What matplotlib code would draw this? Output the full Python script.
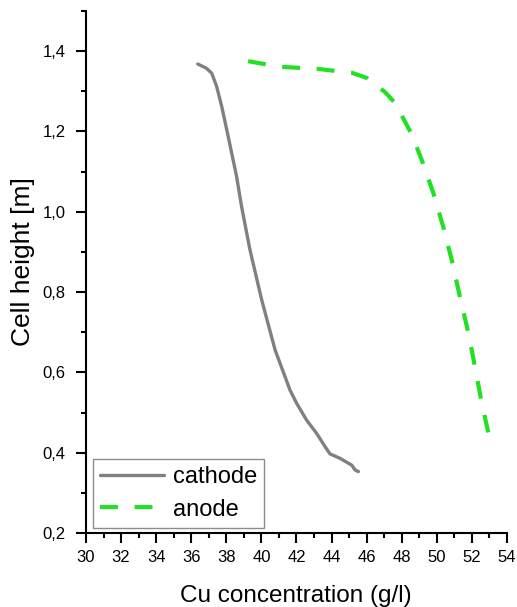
import matplotlib.pyplot as plt
from matplotlib.ticker import MultipleLocator, FuncFormatter

plt.rcParams['font.family'] = ['Liberation Sans', 'DejaVu Sans']

cathode_x = [36.37, 36.88, 37.17, 37.45, 37.74, 38.11, 38.59, 38.87, 39.35, 40.02,
             40.78, 41.63, 42.01, 42.58, 43.15, 43.63, 43.91, 44.48, 45.15, 45.34, 45.53]
cathode_y = [1.368, 1.357, 1.345, 1.312, 1.262, 1.187, 1.087, 1.013, 0.905, 0.780,
             0.656, 0.556, 0.523, 0.481, 0.448, 0.415, 0.397, 0.386, 0.369, 0.357, 0.353]

anode_x = [39.24, 41.06, 43.17, 45.17, 46.02, 47.05, 47.62, 48.07, 48.59, 49.14,
           49.80, 50.37, 50.85, 51.32, 51.80, 52.18, 52.56, 53.03, 53.15]
anode_y = [1.375, 1.361, 1.356, 1.346, 1.333, 1.298, 1.271, 1.234, 1.191, 1.129,
           1.047, 0.962, 0.880, 0.788, 0.698, 0.613, 0.524, 0.432, 0.419]

fig = plt.figure(figsize=(5.17, 6.07), dpi=100)
ax = fig.add_axes([0.1663, 0.1219, 0.8143, 0.86])

ax.plot(cathode_x, cathode_y, color='#808080', lw=2.4, label='cathode',
        solid_joinstyle='round', solid_capstyle='round')
ax.plot(anode_x, anode_y, color='#22e022', lw=3, dashes=(4.3, 4.0), label='anode')

ax.set_xlim(30, 54)
ax.set_ylim(0.2, 1.5)
ax.xaxis.set_major_locator(MultipleLocator(2))
ax.xaxis.set_minor_locator(MultipleLocator(1))
ax.yaxis.set_minor_locator(MultipleLocator(0.1))
ax.set_yticks([0.2, 0.4, 0.6, 0.8, 1.0, 1.2, 1.4])
ax.yaxis.set_major_formatter(FuncFormatter(lambda v, p: f'{v:.1f}'.replace('.', ',')))

for s in ['top', 'right']:
    ax.spines[s].set_visible(False)
for s in ['left', 'bottom']:
    ax.spines[s].set_linewidth(1.5)
ax.tick_params(which='major', direction='out', length=7, width=1.5, labelsize=12)
ax.tick_params(axis='x', which='major', pad=5)
ax.tick_params(axis='y', which='major', pad=7.5)
ax.tick_params(which='minor', direction='out', length=3.5, width=1.5)

# axis titles
fig.text(296 / 517, 0.008, 'Cu concentration (g/l)', fontsize=17.5,
         ha='center', va='baseline')
fig.text(23 / 517, 1 - 262 / 607, 'Cell height [m]', fontsize=19,
         rotation=90, ha='center', va='center')

leg = ax.legend(loc='lower left', bbox_to_anchor=(0.016, 0.01), fontsize=17,
                frameon=True, fancybox=False, edgecolor='#707070', handlelength=2.7,
                borderaxespad=0, labelspacing=0.45, handletextpad=0.4, borderpad=0.3)
leg.get_frame().set_linewidth(1.0)

fig.savefig('out.png', dpi=100)
